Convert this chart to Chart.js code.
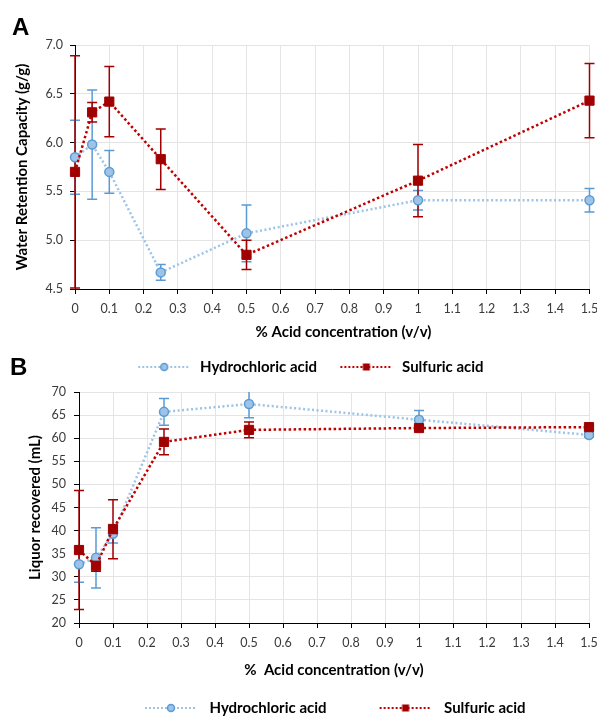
<!DOCTYPE html>
<html>
<head>
<meta charset="utf-8">
<script src="https://cdn.jsdelivr.net/npm/chart.js@4.4.1/dist/chart.umd.min.js"></script>
<style>
    body { margin: 0; background: #fff; }
    #wrap { position: relative; width: 597px; height: 718px; background: #fff; }
    .box { position: absolute; left: 0; width: 597px; }
    .panel { position: absolute; font: bold 24px "Liberation Sans", Arial, sans-serif; line-height: 24px; color: #000; }
</style>
</head>
<body>
<div id="wrap">
    <div class="box" style="top:0;height:380px"><canvas id="chartA"></canvas></div>
    <div class="box" style="top:380px;height:338px"><canvas id="chartB"></canvas></div>
    <div class="panel" style="left:12px;top:15px">A</div>
    <div class="panel" style="left:10px;top:355px">B</div>
</div>
<script>
// Acid concentration (% v/v).
const concentration = [0, 0.05, 0.1, 0.25, 0.5, 1, 1.5];

// Panel A: water retention capacity (g/g).
const wrcHydrochloric = [5.85, 5.98, 5.70, 4.67, 5.07, 5.41, 5.41];
const wrcHydrochloricErr = [0.38, 0.56, 0.22, 0.08, 0.29, 0.10, 0.12];
const wrcSulfuric = [5.70, 6.31, 6.42, 5.83, 4.85, 5.61, 6.43];
const wrcSulfuricErr = [1.19, 0.10, 0.36, 0.31, 0.15, 0.37, 0.38];

// Panel B: liquor recovered (mL).
const liqHydrochloric = [32.7, 34.1, 39.3, 65.7, 67.4, 64.0, 60.7];
const liqHydrochloricErr = [3.9, 6.5, 2.0, 2.9, 3.0, 2.0, 0.5];
const liqSulfuric = [35.8, 32.4, 40.3, 59.2, 61.8, 62.2, 62.4];
const liqSulfuricErr = [12.9, 1.2, 6.4, 2.8, 1.7, 0.5, 0.4];

const seriesNames = ['Hydrochloric acid', 'Sulfuric acid'];

const Color = {
    blueLine: '#9dc3e6',
    blueEdge: '#5b9bd5',
    redLine: '#c00000',
    redFill: '#a00000',
    grid: '#e4e4e4',
    tick: '#3a3a3a'
};
const FONT = 'Lato, "Open Sans", sans-serif';

const errorBars = {
    id: 'errorBars',
    beforeDatasetsDraw(chart) {
        const { ctx, chartArea, scales } = chart;
        ctx.save();
        ctx.beginPath();
        ctx.rect(0, chartArea.top, chart.width, chartArea.bottom - chartArea.top);
        ctx.clip();
        chart.data.datasets.forEach((ds) => {
            ctx.strokeStyle = ds.errorColor;
            ctx.lineWidth = 1.5;
            ds.data.forEach((pt, i) => {
                const px = scales.x.getPixelForValue(pt.x);
                const hi = scales.y.getPixelForValue(pt.y + ds.errors[i]);
                const lo = scales.y.getPixelForValue(pt.y - ds.errors[i]);
                ctx.beginPath();
                ctx.moveTo(px, hi);
                ctx.lineTo(px, lo);
                ctx.moveTo(px - 5, hi);
                ctx.lineTo(px + 5, hi);
                ctx.moveTo(px - 5, lo);
                ctx.lineTo(px + 5, lo);
                ctx.stroke();
            });
        });
        ctx.restore();
    }
};

// Moves the legend box after layout so it sits where the original put it.
const legendShift = {
    id: 'legendShift',
    afterLayout(chart, args, opts) {
        const lg = chart.legend;
        if (!lg) return;
        lg.left += opts.dx; lg.right += opts.dx;
        lg.top += opts.dy; lg.bottom += opts.dy;
    }
};

// Legend symbol: dotted line with the marker in the middle.
function legendSymbol(kind, width, offset) {
    const c = document.createElement('canvas');
    c.width = width;
    c.height = 12;
    const ctx = c.getContext('2d');
    const mid = offset + 26;
    ctx.setLineDash([2, 2]);
    ctx.lineWidth = 2;
    ctx.strokeStyle = kind === 'circle' ? Color.blueLine : Color.redLine;
    ctx.beginPath();
    ctx.moveTo(offset, 6);
    ctx.lineTo(offset + 52, 6);
    ctx.stroke();
    ctx.setLineDash([]);
    if (kind === 'circle') {
        ctx.fillStyle = Color.blueLine;
        ctx.strokeStyle = Color.blueEdge;
        ctx.lineWidth = 1.5;
        ctx.beginPath();
        ctx.arc(mid, 6, 3.5, 0, 2 * Math.PI);
        ctx.fill();
        ctx.stroke();
    } else {
        ctx.fillStyle = Color.redFill;
        ctx.fillRect(mid - 3.5, 2.5, 7, 7);
    }
    return c;
}

function points(values) {
    return concentration.map((c, i) => ({ x: c, y: values[i] }));
}

function makeChart(id, p) {
    const datasets = [{
        label: seriesNames[0],
        data: points(p.blue),
        errors: p.blueErr,
        errorColor: Color.blueEdge,
        borderColor: Color.blueLine,
        borderWidth: 2.5,
        borderDash: [2, 2.5],
        pointStyle: 'circle',
        pointRadius: 4.5,
        pointBackgroundColor: Color.blueLine,
        pointBorderColor: Color.blueEdge,
        pointBorderWidth: 1.5,
        clip: false,
        order: 1
    }, {
        label: seriesNames[1],
        data: points(p.red),
        errors: p.redErr,
        errorColor: Color.redFill,
        borderColor: Color.redLine,
        borderWidth: 2.5,
        borderDash: [2.5, 2.5],
        pointStyle: 'rect',
        pointRadius: 6.5,
        pointBackgroundColor: Color.redFill,
        pointBorderColor: Color.redFill,
        pointBorderWidth: 1,
        clip: false,
        order: 0
    }];

    return new Chart(document.getElementById(id).getContext('2d'), {
        type: 'line',
        data: { datasets: datasets },
        options: {
            responsive: true,
            maintainAspectRatio: false,
            animation: false,
            layout: { padding: p.padding },
            plugins: {
                tooltip: { enabled: false },
                legendShift: p.shift,
                legend: {
                    position: 'bottom',
                    align: 'start',
                    labels: {
                        usePointStyle: true,
                        pointStyleWidth: p.symWidth,
                        padding: 3,
                        color: '#000',
                        font: { family: FONT, size: 15, weight: 'bold' },
                        generateLabels: (chart) => chart.data.datasets.map((ds, i) => ({
                            text: ds.label,
                            datasetIndex: i,
                            fontColor: '#000',
                            lineWidth: 0,
                            strokeStyle: 'rgba(0,0,0,0)',
                            fillStyle: 'rgba(0,0,0,0)',
                            pointStyle: legendSymbol(i === 0 ? 'circle' : 'rect', p.symWidth, p.symOffset)
                        }))
                    }
                }
            },
            scales: {
                x: {
                    type: 'linear',
                    min: 0,
                    max: 1.5,
                    afterFit: (scale) => {
                        scale.height = p.xHeight;
                        scale.paddingLeft = 0;
                        scale.paddingRight = 0;
                    },
                    ticks: {
                        stepSize: 0.1,
                        padding: 7.5,
                        maxRotation: 0,
                        autoSkip: false,
                        color: Color.tick,
                        font: { family: FONT, size: 12.5 },
                        callback: (v) => String(Math.round(v * 10) / 10)
                    },
                    grid: { color: Color.grid, tickColor: '#000', tickLength: 5 },
                    border: { color: '#000', width: 1 },
                    title: {
                        display: true,
                        text: p.xTitle,
                        color: '#000',
                        font: { family: FONT, size: 15, weight: 'bold' },
                        padding: { top: 0, bottom: p.xTitlePad }
                    }
                },
                y: {
                    min: p.yMin,
                    max: p.yMax,
                    afterFit: (scale) => {
                        scale.width = p.yWidth;
                        scale.paddingTop = 0;
                        scale.paddingBottom = 0;
                    },
                    ticks: {
                        stepSize: p.yStep,
                        padding: p.yTickPad,
                        color: Color.tick,
                        font: { family: FONT, size: 12.5 },
                        callback: (v) => v.toFixed(p.yDigits)
                    },
                    grid: { color: Color.grid, tickColor: '#000', tickLength: 5 },
                    border: { color: '#000', width: 1 },
                    title: {
                        display: true,
                        text: p.yTitle,
                        color: '#000',
                        font: { family: FONT, size: 15, weight: 'bold' },
                        padding: { top: p.yTitlePad, bottom: 0 }
                    }
                }
            }
        },
        plugins: [errorBars, legendShift]
    });
}

makeChart('chartA', {
    blue: wrcHydrochloric, blueErr: wrcHydrochloricErr,
    red: wrcSulfuric, redErr: wrcSulfuricErr,
    yMin: 4.5, yMax: 7.0, yStep: 0.5, yDigits: 1,
    yTitle: 'Water Retention Capacity (g/g)',
    xTitle: '\u2002\u2002\u2002% Acid concentration (v/v)',
    padding: { top: 45, right: 6, bottom: 0, left: 0 },
    yWidth: 75, yTickPad: 7, yTitlePad: 13.5,
    xHeight: 63, xTitlePad: 11,
    symWidth: 74.5, symOffset: 20,
    shift: { dx: 115, dy: 4.5 }
});

makeChart('chartB', {
    blue: liqHydrochloric, blueErr: liqHydrochloricErr,
    red: liqSulfuric, redErr: liqSulfuricErr,
    yMin: 20, yMax: 70, yStep: 5, yDigits: 0,
    yTitle: 'Liquor recovered (mL)',
    xTitle: '%  Acid concentration (v/v)',
    padding: { top: 12, right: 8, bottom: 0, left: 0 },
    yWidth: 79, yTickPad: 8, yTitlePad: 26,
    xHeight: 67, xTitlePad: 11,
    symWidth: 107, symOffset: 50,
    shift: { dx: 92, dy: 7.5 }
});
</script>
</body>
</html>
